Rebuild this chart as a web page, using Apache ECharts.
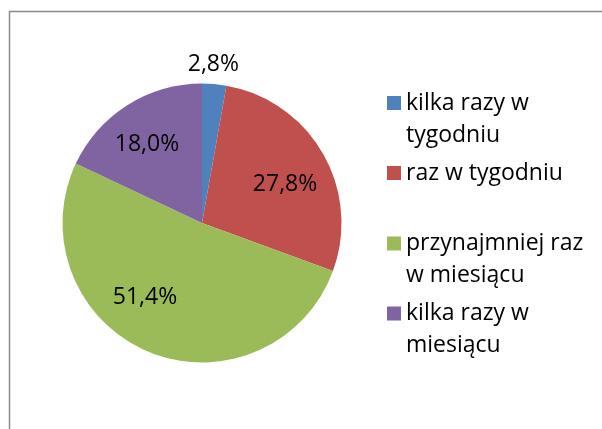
<!DOCTYPE html>
<html>
<head>
<meta charset="utf-8">
<script src="https://cdn.jsdelivr.net/npm/echarts@6/dist/echarts.min.js"></script>
<style>html,body{margin:0;padding:0;background:#fff}#c{width:602px;height:429px}</style>
</head>
<body>
<div id="c"></div>
<script>
var categories = ['kilka razy w tygodniu', 'raz w tygodniu', 'przynajmniej raz w miesiącu', 'kilka razy w miesiącu'];
var legendLines = [['kilka razy w', 'tygodniu'], ['raz w tygodniu'], ['przynajmniej raz', 'w miesiącu'], ['kilka razy w', 'miesiącu']];
var values = [2.8, 27.8, 51.4, 18.0];
var colors = ['#4F81BD', '#C0504D', '#9BBB59', '#8064A2'];

var FONT = 'Open Sans';
var FS = 23;
var LH = 32;
var labelShift = [[5, -86], [20, -2], [-29, 7], [-16, -17]];
var iconCenters = [103, 173, 243.5, 313.5];

var chart = echarts.init(document.getElementById('c'), null, {renderer: 'canvas'});
var legends = categories.map(function (name, i) {
  var lines = legendLines[i];
  var two = lines.length > 1;
  var text = two ? '\n' + lines.join('\n') : lines[0];
  var blockH = two ? LH * 3 : LH;
  return {
    data: [name],
    orient: 'vertical',
    left: 387,
    top: iconCenters[i] - blockH / 2,
    padding: 0,
    itemWidth: 14,
    itemHeight: 14,
    icon: 'rect',
    selectedMode: false,
    formatter: function () { return text; },
    textStyle: {fontFamily: FONT, fontSize: FS, color: '#000', lineHeight: LH}
  };
});

chart.setOption({
  animation: false,
  color: colors,
  graphic: [{
    type: 'rect', silent: true,
    shape: {x: 9.5, y: 11.5, width: 900, height: 800},
    style: {fill: 'none', stroke: '#8a8a8a', lineWidth: 1.5}
  }],
  legend: legends,
  series: [{
    type: 'pie',
    silent: true,
    center: [202, 223],
    radius: [0, 139.5],
    startAngle: 90,
    clockwise: true,
    avoidLabelOverlap: false,
    itemStyle: {borderWidth: 0},
    label: {
      show: true, position: 'inside',
      fontFamily: FONT, fontSize: FS, color: '#000',
      formatter: function (p) { return p.value.toFixed(1).replace('.', ',') + '%'; }
    },
    labelLine: {show: false},
    labelLayout: function (p) {
      return {dx: labelShift[p.dataIndex][0], dy: labelShift[p.dataIndex][1]};
    },
    data: categories.map(function (n, i) { return {name: n, value: values[i]}; })
  }]
});
</script>
</body>
</html>
